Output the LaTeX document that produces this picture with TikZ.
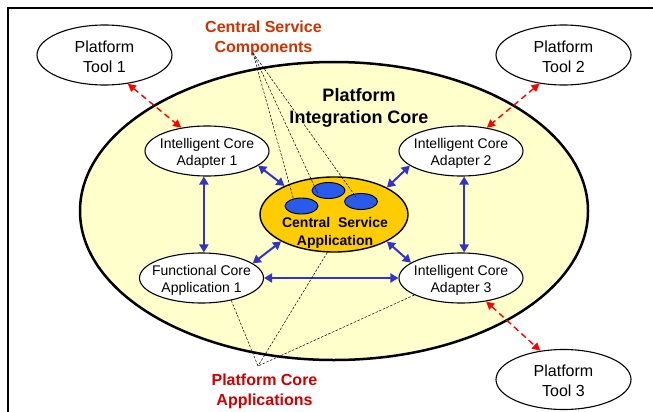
\documentclass[tikz,border=0pt]{standalone}
\usepackage{fontspec}
\setmainfont{Liberation Sans}
\usetikzlibrary{shapes.geometric,arrows.meta,calc}
\definecolor{bigfill}{RGB}{255,255,204}
\definecolor{gold}{RGB}{255,204,0}
\definecolor{compblue}{RGB}{40,90,235}
\definecolor{linkblue}{RGB}{51,51,204}
\definecolor{cscred}{RGB}{204,51,0}
\definecolor{pcared}{RGB}{204,0,0}
\newcommand{\twoline}[2][6.5pt]{\makebox[0pt]{\raisebox{-#1}[0pt][0pt]{\begin{tabular}{@{}c@{}}#2\end{tabular}}}}
\begin{document}
\begin{tikzpicture}[x=1pt,y=-1pt,
  oval/.style={ellipse, draw, fill=white, line width=1.1pt, inner sep=0pt, font=\fontsize{14}{17}\selectfont},
  tool/.style={oval, minimum width=135pt, minimum height=60pt, font=\fontsize{16}{20}\selectfont},
  core/.style={oval, minimum width=124pt, minimum height=50pt},
  comp/.style={ellipse, draw, fill=compblue, line width=0.9pt, inner sep=0pt, minimum width=33pt, minimum height=16pt},
  blink/.style={draw=linkblue, line width=2pt, {Triangle[length=8pt,width=9pt]}-{Triangle[length=8pt,width=9pt]}},
  rlink/.style={draw=red, line width=1.4pt, dash pattern=on 6pt off 4pt, {Triangle[length=8pt,width=8pt]}-{Triangle[length=8pt,width=8pt]}},
  pointer/.style={draw=black, line width=0.5pt, dash pattern=on 2.5pt off 1.5pt},
  boldlabel/.style={font=\bfseries\fontsize{16}{20}\selectfont, align=center, inner sep=0pt},
]
\useasboundingbox (0,0) rectangle (653,412);
% frame
\draw[line width=2pt] (8,412) -- (8,8) -- (653,8);

% platform integration core
\node[ellipse, draw, fill=bigfill, line width=2.5pt, inner sep=0pt,
      minimum width=508pt, minimum height=298pt] (pic) at (334,211) {};
\node[font=\bfseries\fontsize{18}{22}\selectfont, align=center, inner sep=0pt] (pictext) at (359,107.5) {Platform\\Integration Core};

% tools
\node[tool] (t1) at (104.5,55) {\twoline[7.5pt]{Platform\\Tool 1}};
\node[tool] (t2) at (563.5,55) {\twoline[7.5pt]{Platform\\Tool 2}};
\node[tool] (t3) at (563.5,379.5) {\twoline[7.5pt]{Platform\\Tool 3}};

% core nodes
\node[core] (a1) at (207,151) {\twoline{Intelligent Core\\Adapter 1}};
\node[core] (a2) at (461,151) {\twoline{Intelligent Core\\Adapter 2}};
\node[core] (f1) at (201.5,278) {\twoline{Functional Core\\Application 1}};
\node[core] (a3) at (461,278) {\twoline{Intelligent Core\\Adapter 3}};

% central service application
\node[ellipse, draw, fill=gold, line width=1.4pt, inner sep=0pt,
      minimum width=148pt, minimum height=75pt] (csa) at (334,214.5) {};
\node[comp] (b1) at (301.5,206) {};
\node[comp] (b2) at (328.5,190.5) {};
\node[comp] (b3) at (361,201.5) {};
\node[font=\bfseries\fontsize{14}{18}\selectfont, align=center, inner sep=0pt] (csatext) at (335,233) {Central~~Service\\Application};

% red dashed links
\draw[rlink] (t1.-51) -- (a1.138);
\draw[rlink] (t2.230) -- (a2.42);
\draw[rlink] (a3.-43) -- (t3.129);

% blue links
\draw[blink] (a1.-16) -- (csa.150);
\draw[blink] (a2.196) -- (csa.27);
\draw[blink] (csa.207) -- (f1.16);
\draw[blink] (csa.-27) -- (a3.163);
\draw[blink] (a1.-97) -- (a1.-97 |- f1.north);
\draw[blink] (a2.-83) -- (a2.-83 |- a3.north);
\draw[blink] (f1.east) -- (a3.west);

% labels and pointers
\node[boldlabel, text=cscred] (csc) at (263.5,38.5) {Central Service\\Components};
\node[boldlabel, text=pcared] (pca) at (264.5,391) {Platform Core\\Applications};
\coordinate (cscpt) at (253,53);
\coordinate (pcapt) at (258,366);
\draw[pointer] (cscpt) -- ($(b1)+(-8,-7)$);
\draw[pointer] (cscpt) -- ($(b2)+(-11,2.5)$);
\draw[pointer] (cscpt) -- ($(b3)+(-5,-4.5)$);
\draw[pointer] (f1.-37) -- (pcapt);
\draw[pointer] (csa.-100) -- (pcapt);
\draw[pointer] (a3.200) -- (pcapt);
\end{tikzpicture}
\end{document}
